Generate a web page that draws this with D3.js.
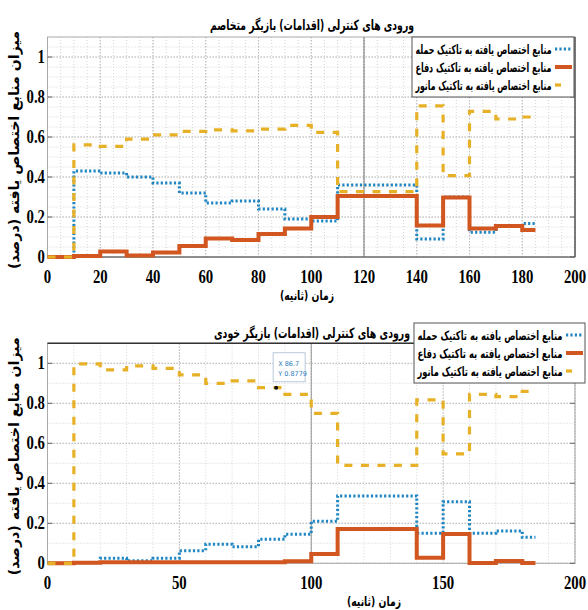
<!DOCTYPE html>
<html>
<head>
<meta charset="utf-8">
<script src="https://cdn.jsdelivr.net/npm/d3@7"></script>
<style>
  body { margin: 0; background: #fff; }
  svg { display: block; }
</style>
</head>
<body>
<div id="chart"></div>
<script>
// stair steps (seconds); the last value is held until tEnd
const steps = [0, 10, 20, 30, 40, 50, 60, 70, 80, 90, 100, 110, 120, 130, 140, 150, 160, 170, 180];
const tEnd = 185;

// adversary player (top)
const enemyAttack   = [0, 0.43, 0.42, 0.40, 0.37, 0.32, 0.27, 0.28, 0.24, 0.19, 0.18, 0.36, 0.36, 0.36, 0.09, 0.30, 0.124, 0.155, 0.167];
const enemyDefense  = [0, 0.005, 0.027, 0.008, 0.022, 0.055, 0.093, 0.085, 0.115, 0.143, 0.20, 0.305, 0.305, 0.305, 0.157, 0.297, 0.143, 0.155, 0.135];
const enemyManeuver = [0, 0.561, 0.553, 0.589, 0.611, 0.628, 0.636, 0.631, 0.639, 0.658, 0.623, 0.327, 0.327, 0.327, 0.756, 0.407, 0.728, 0.69, 0.70];

// own player (bottom)
const ownAttack   = [0, 0.003, 0.025, 0.013, 0.025, 0.063, 0.095, 0.083, 0.12, 0.145, 0.21, 0.337, 0.337, 0.337, 0.15, 0.308, 0.15, 0.162, 0.13];
const ownDefense  = [0, 0.003, 0.005, 0.005, 0.005, 0.005, 0.005, 0.005, 0.005, 0.01, 0.047, 0.172, 0.172, 0.172, 0.028, 0.147, 0.002, 0.012, 0.002];
const ownManeuver = [0, 0.997, 0.967, 0.987, 0.975, 0.942, 0.90, 0.912, 0.878, 0.845, 0.75, 0.49, 0.49, 0.49, 0.817, 0.547, 0.845, 0.833, 0.86];

// data tip on the bottom panel
const tipX = 86.7, tipY = 0.8779;

const xTicksTop = [0, 20, 40, 60, 80, 100, 120, 140, 160, 180, 200];
const xTicksBottom = [0, 50, 100, 150, 200];
const yTicks = [0, 0.2, 0.4, 0.6, 0.8, 1];

const titleTop = "ورودی های کنترلی (اقدامات) بازیگر متخاصم";
const titleBottom = "ورودی های کنترلی (اقدامات) بازیگر خودی";
const legendLabels = ["منابع اختصاص یافته به تاکتیک حمله", "منابع اختصاص یافته به تاکتیک دفاع", "منابع اختصاص یافته به تاکتیک مانور"];
const xLabel = "زمان (ثانیه)";
const yLabel = "میزان منابع اختصاص یافته (درصد)";

const W = 588, H = 610;
const faFont = "'DejaVu Sans Condensed', 'DejaVu Sans', sans-serif";
const numFont = "'Liberation Serif', 'Times New Roman', serif";

const lineStyles = [
  {color: "#1f86c2", width: 3,   dash: "2.2,2.2"},   // attack: dotted
  {color: "#d2561f", width: 4,   dash: null},        // defense: solid
  {color: "#e6b126", width: 3.2, dash: "8,8.5"}      // maneuver: dashed
];

const svg = d3.select("#chart").append("svg")
  .attr("width", W).attr("height", H);

function drawPanel(p) {
  const x = d3.scaleLinear().domain([0, 200]).range([47.5, 575]);
  const y = d3.scaleLinear().domain([0, 1.1]).range([p.bottom, p.top]);
  const g = svg.append("g");

  // minor grid
  g.append("g").selectAll("line").data(d3.range(0, 200.01, p.xMinor))
    .join("line")
      .attr("x1", d => x(d)).attr("x2", d => x(d))
      .attr("y1", p.top).attr("y2", p.bottom)
      .attr("stroke", "#d4d4d4").attr("stroke-dasharray", "1,2");
  g.append("g").selectAll("line").data(d3.range(0, 1.1, p.yMinor))
    .join("line")
      .attr("x1", x(0)).attr("x2", x(200))
      .attr("y1", d => y(d)).attr("y2", d => y(d))
      .attr("stroke", "#d4d4d4").attr("stroke-dasharray", "1,2");
  // major grid
  g.append("g").selectAll("line").data(p.xTicks)
    .join("line")
      .attr("x1", d => x(d)).attr("x2", d => x(d))
      .attr("y1", p.top).attr("y2", p.bottom)
      .attr("stroke", "#b8b8b8").attr("stroke-dasharray", "1.5,1.5");
  g.append("g").selectAll("line").data(yTicks)
    .join("line")
      .attr("x1", x(0)).attr("x2", x(200))
      .attr("y1", d => y(d)).attr("y2", d => y(d))
      .attr("stroke", "#b8b8b8").attr("stroke-dasharray", "1.5,1.5");
  // darker vertical grid line
  g.append("line")
    .attr("x1", x(p.darkX)).attr("x2", x(p.darkX))
    .attr("y1", p.top).attr("y2", p.bottom)
    .attr("stroke", p.darkColor).attr("stroke-width", 1);

  // axes box
  g.append("rect")
    .attr("x", x(0)).attr("y", p.top)
    .attr("width", x(200) - x(0)).attr("height", p.bottom - p.top)
    .attr("fill", "none").attr("stroke", "#aaa");
  if (p.name === "top") {
    g.append("line").attr("x1", x(200)).attr("x2", x(200)).attr("y1", p.top).attr("y2", p.bottom)
      .attr("stroke", "#444").attr("stroke-width", 1.2);
    g.append("line").attr("x1", x(0)).attr("x2", x(200)).attr("y1", p.bottom).attr("y2", p.bottom)
      .attr("stroke", "#555").attr("stroke-width", 1.2);
  } else {
    g.append("line").attr("x1", x(0)).attr("x2", p.legendX).attr("y1", p.top).attr("y2", p.top)
      .attr("stroke", "#333").attr("stroke-width", 1.6);
  }
  // small tick marks on both sides
  yTicks.forEach(v => {
    g.append("line").attr("x1", x(0)).attr("x2", x(0) + 5).attr("y1", y(v)).attr("y2", y(v)).attr("stroke", "#666");
    g.append("line").attr("x1", x(200) - 5).attr("x2", x(200)).attr("y1", y(v)).attr("y2", y(v)).attr("stroke", "#666");
  });

  // tick labels
  g.append("g").selectAll("text").data(p.xTicks)
    .join("text")
      .attr("x", d => x(d)).attr("y", p.bottom + 26)
      .attr("text-anchor", "middle")
      .attr("font-family", numFont).attr("font-weight", "bold").attr("font-size", 18)
      .attr("transform", d => `translate(${x(d)},0) scale(0.82,1) translate(${-x(d)},0)`)
      .text(d => d);
  g.append("g").selectAll("text").data(yTicks)
    .join("text")
      .attr("x", 45).attr("y", d => y(d) + 6)
      .attr("text-anchor", "end")
      .attr("font-family", numFont).attr("font-weight", "bold").attr("font-size", 18)
      .attr("transform", "translate(45,0) scale(0.82,1) translate(-45,0)")
      .text(d => d);

  // stairs
  const line = d3.line().curve(d3.curveStepAfter)
    .x(d => x(d[0])).y(d => y(d[1]));
  p.series.forEach((vals, i) => {
    const pts = steps.map((t, k) => [t, vals[k]]);
    pts.push([tEnd, vals[vals.length - 1]]);
    const s = lineStyles[i];
    g.append("path").datum(pts)
      .attr("d", line)
      .attr("fill", "none")
      .attr("stroke", s.color)
      .attr("stroke-width", s.width)
      .attr("stroke-dasharray", s.dash);
  });

  // title
  g.append("text")
    .attr("x", p.titleX).attr("y", p.titleY)
    .attr("text-anchor", "middle").attr("direction", "rtl")
    .attr("font-family", faFont).attr("font-weight", "bold").attr("font-size", 14)
    .attr("textLength", p.titleW).attr("lengthAdjust", "spacingAndGlyphs")
    .text(p.title);

  // x label
  g.append("text")
    .attr("x", p.xLabelX).attr("y", p.bottom + 43)
    .attr("text-anchor", "middle").attr("direction", "rtl")
    .attr("font-family", faFont).attr("font-weight", "bold").attr("font-size", 13)
    .attr("textLength", 54).attr("lengthAdjust", "spacingAndGlyphs")
    .text(xLabel);

  // y label
  const yc = (p.top + p.bottom) / 2 + 3;
  g.append("text")
    .attr("transform", `translate(19,${yc}) rotate(-90)`)
    .attr("text-anchor", "middle").attr("direction", "rtl")
    .attr("font-family", faFont).attr("font-weight", "bold").attr("font-size", 14)
    .attr("textLength", 238).attr("lengthAdjust", "spacingAndGlyphs")
    .text(yLabel);

  // legend
  const lg = g.append("g");
  lg.append("rect")
    .attr("x", p.legendX).attr("y", p.legendY)
    .attr("width", p.legendW).attr("height", 60)
    .attr("fill", "#fff").attr("stroke", "#555").attr("stroke-width", 1);
  legendLabels.forEach((lab, i) => {
    const ry = p.legendY + 12 + i * 18;
    const s = lineStyles[i];
    lg.append("line")
      .attr("x1", p.legendX + p.legendW - 19).attr("x2", p.legendX + p.legendW - 2)
      .attr("y1", ry).attr("y2", ry)
      .attr("stroke", s.color).attr("stroke-width", s.width)
      .attr("stroke-dasharray", i === 2 ? "6,20" : s.dash);
    lg.append("text")
      .attr("x", p.legendX + (p.legendW - 21) / 2 + 1).attr("y", ry + 5)
      .attr("text-anchor", "middle").attr("direction", "rtl")
      .attr("font-family", faFont).attr("font-weight", "bold").attr("font-size", 12.5)
      .attr("textLength", p.legendW - 26).attr("lengthAdjust", "spacingAndGlyphs")
      .text(lab);
  });

  return {x, y, g};
}

drawPanel({
  name: "top", top: 37, bottom: 257, xTicks: xTicksTop, xMinor: 5, yMinor: 0.05,
  darkX: 120, darkColor: "#777",
  series: [enemyAttack, enemyDefense, enemyManeuver],
  title: titleTop, titleX: 312, titleY: 30, titleW: 204, xLabelX: 307,
  legendX: 412, legendY: 37, legendW: 162
});

const bottomPanel = drawPanel({
  name: "bottom", top: 343.3, bottom: 563.3, xTicks: xTicksBottom, xMinor: 10, yMinor: 0.1,
  darkX: 100, darkColor: "#999",
  series: [ownAttack, ownDefense, ownManeuver],
  title: titleBottom, titleX: 312, titleY: 338, titleW: 196, xLabelX: 374,
  legendX: 414, legendY: 323, legendW: 171
});

// data tip
const bx = bottomPanel.x(tipX), by = bottomPanel.y(tipY);
const tip = bottomPanel.g.append("g");
tip.append("circle").attr("cx", bx).attr("cy", by).attr("r", 2).attr("fill", "#111");
tip.append("rect")
  .attr("x", bx - 3).attr("y", by - 35)
  .attr("width", 32).attr("height", 29)
  .attr("fill", "#fff").attr("stroke", "#b9c9da");
tip.append("text").attr("x", bx + 2).attr("y", by - 22)
  .attr("font-family", "'DejaVu Sans', sans-serif").attr("font-size", 6.5).attr("fill", "#2a7ab8")
  .text("X " + tipX);
tip.append("text").attr("x", bx + 2).attr("y", by - 12)
  .attr("font-family", "'DejaVu Sans', sans-serif").attr("font-size", 6.5).attr("fill", "#2a7ab8")
  .text("Y " + tipY);
</script>
</body>
</html>
